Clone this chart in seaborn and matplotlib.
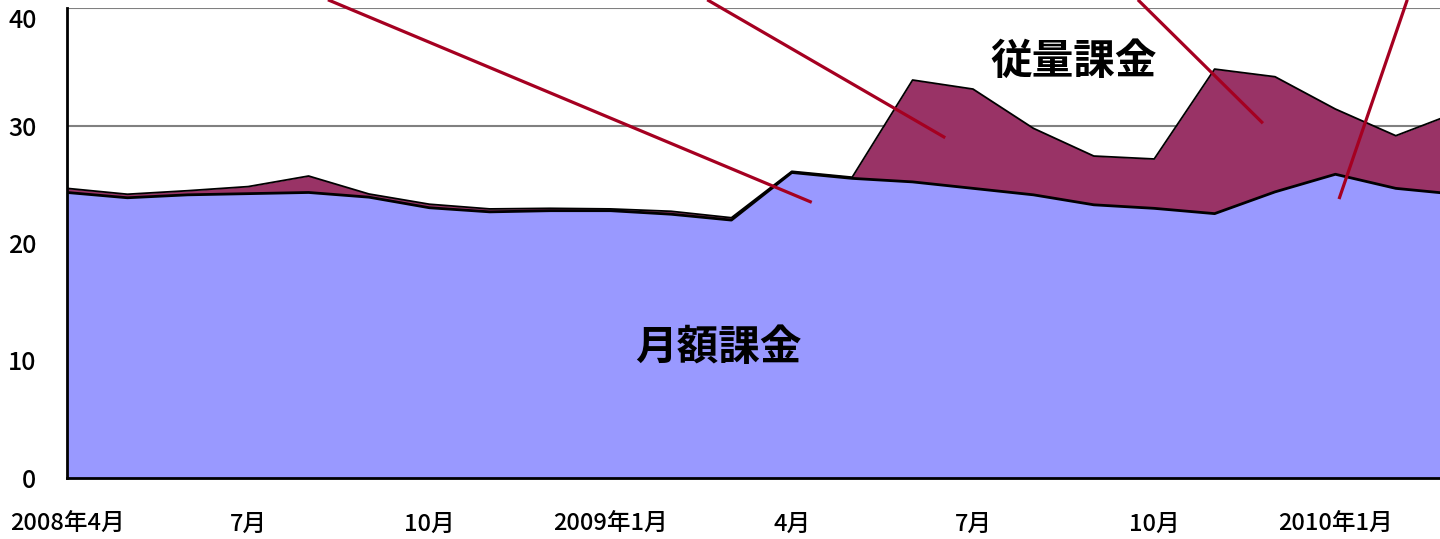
import numpy as np
import pandas as pd
import matplotlib
matplotlib.use("Agg")
import matplotlib.pyplot as plt
import seaborn as sns

# ---- data ----
month_index = list(range(24))  # 2008年4月 .. 2010年3月
flat_rate = [24.3, 23.85, 24.1, 24.2, 24.3, 23.9, 23.0, 22.65, 22.75, 22.75, 22.45, 21.95,
             26.0, 25.5, 25.2, 24.65, 24.1, 23.25, 22.95, 22.5, 24.35, 25.85, 24.65, 24.15]
usage_rate = [0.35, 0.3, 0.35, 0.6, 1.4, 0.27, 0.3, 0.25, 0.2, 0.15, 0.25, 0.2,
              0.1, 0.1, 8.67, 8.45, 5.66, 4.15, 4.2, 12.3, 9.8, 5.55, 4.48, 6.95]
tick_pos = [0, 3, 6, 9, 12, 15, 18, 21]
tick_labels = ["2008年4月", "7月", "10月", "2009年1月", "4月", "7月", "10月", "2010年1月"]
y_ticks = [0, 10, 20, 30, 40]
label_flat = "月額課金"
label_usage = "従量課金"
# callout leader lines (month, value) start -> end
callouts = [((4.32, 40.7), (12.33, 23.46)),
            ((10.6, 40.7), (14.54, 28.96)),
            ((17.73, 40.7), (19.80, 30.19)),
            ((22.19, 40.7), (21.06, 23.74))]

sns.set_theme(style="white")
plt.rcParams['font.family'] = ['Noto Sans CJK JP', 'DejaVu Sans']

df = pd.DataFrame({"m": month_index, "flat": flat_rate, "usage": usage_rate})
df["total"] = df["flat"] + df["usage"]

fig = plt.figure(figsize=(14.4, 5.39), dpi=100)
ax = fig.add_axes([67 / 1440, 1 - 478 / 539, 1 - 67 / 1440, 470 / 539])

ax.fill_between(df["m"], 0, df["flat"], color="#9999FF", zorder=2, linewidth=0)
ax.fill_between(df["m"], df["flat"], df["total"], color="#993366", zorder=2, linewidth=0)
sns.lineplot(data=df, x="m", y="total", ax=ax, color="black", linewidth=1.3, zorder=3)
sns.lineplot(data=df, x="m", y="flat", ax=ax, color="black", linewidth=2.0, zorder=4)

ax.set_xlim(0, (1440 - 67) / 60.4)
ax.set_ylim(0, 40)
ax.set_yticks(y_ticks)
ax.set_yticklabels([str(v) for v in y_ticks])
ax.set_xticks(tick_pos)
ax.set_xticklabels(tick_labels)
ax.set_xlabel("")
ax.set_ylabel("")

ax.set_axisbelow(True)
ax.yaxis.grid(True, color="#808080", linewidth=1.5)
ax.xaxis.grid(False)

for s in ["top", "right"]:
    ax.spines[s].set_visible(False)
for s in ["left", "bottom"]:
    ax.spines[s].set_color("black")
    ax.spines[s].set_linewidth(2.0)
    ax.spines[s].set_zorder(6)

ax.tick_params(axis="y", direction="in", length=7, width=1.2, color="black",
               pad=22, labelsize=18)
ax.tick_params(axis="x", direction="in", length=4, width=1.0, color="black",
               pad=25, labelsize=17)
for t in ax.get_xticklabels() + ax.get_yticklabels():
    t.set_color("black")
    t.set_fontweight("medium")
# top label kept inside the canvas as in the reference
ax.get_yticklabels()[-1].set_va("top")

for (x0, y0), (x1, y1) in callouts:
    ax.plot([x0, x1], [y0, y1], color="#A50021", linewidth=2.3, clip_on=False,
            zorder=7, solid_capstyle="butt")

ax.text(16.66, 35.4, label_usage, fontsize=30, fontweight="bold", ha="center",
        va="center", color="black", zorder=8)
ax.text(10.78, 11.06, label_flat, fontsize=30, fontweight="bold", ha="center",
        va="center", color="black", zorder=8)

fig.savefig("out.png", dpi=100)
